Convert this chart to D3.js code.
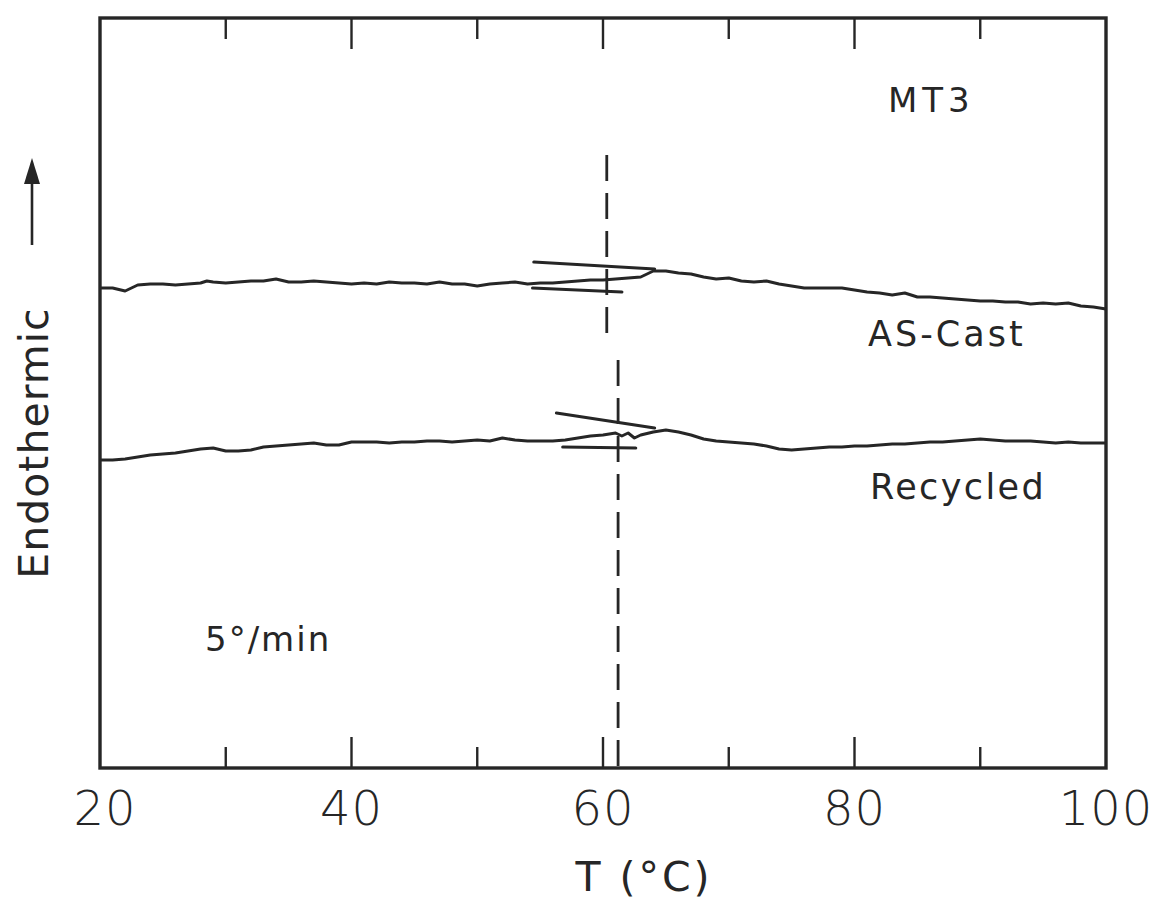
<!DOCTYPE html>
<html>
<head>
<meta charset="utf-8">
<script src="https://cdn.jsdelivr.net/npm/d3@7"></script>
<style>
  html, body { margin: 0; padding: 0; background: #fff; }
  svg text { font-family: "DejaVu Sans", "Liberation Sans", sans-serif; fill: #262626; }
</style>
</head>
<body>
<svg id="chart" width="1161" height="902"></svg>
<script>
// DSC heating scans of MT3 at 5°/min (heat flow in arbitrary units, endothermic up)
const temperature = [20,21,22,23,24,25,26,27,28,28.5,29,30,31,32,33,34,35,36,37,38,39,40,41,42,43,44,45,46,47,48,49,50,51,52,53,54,55,56,57,58,59,60,61,61.5,62,62.5,63,64,65,66,67,68,69,70,71,72,73,74,75,76,77,78,79,80,81,82,83,84,85,86,87,88,89,90,91,92,93,94,95,96,97,98,99,100];

const asCast = [9.60,9.60,9.54,9.66,9.68,9.68,9.66,9.68,9.70,9.74,9.72,9.70,9.72,9.74,9.74,9.78,9.72,9.72,9.74,9.72,9.70,9.68,9.70,9.68,9.72,9.70,9.70,9.68,9.72,9.68,9.68,9.64,9.68,9.70,9.72,9.68,9.70,9.70,9.72,9.74,9.76,9.76,9.78,9.79,9.80,9.81,9.82,9.94,9.94,9.90,9.88,9.82,9.78,9.80,9.74,9.72,9.74,9.68,9.64,9.60,9.60,9.60,9.60,9.56,9.52,9.50,9.46,9.50,9.42,9.42,9.40,9.38,9.36,9.34,9.34,9.32,9.32,9.28,9.30,9.28,9.30,9.24,9.22,9.18];

const recycled = [6.16,6.16,6.18,6.22,6.26,6.28,6.30,6.34,6.38,6.39,6.40,6.34,6.34,6.36,6.42,6.44,6.46,6.48,6.50,6.46,6.46,6.52,6.52,6.52,6.50,6.52,6.52,6.54,6.54,6.52,6.54,6.56,6.54,6.60,6.56,6.54,6.54,6.54,6.56,6.60,6.64,6.66,6.70,6.64,6.70,6.60,6.66,6.72,6.76,6.72,6.66,6.58,6.54,6.52,6.50,6.48,6.44,6.38,6.36,6.38,6.40,6.42,6.42,6.44,6.44,6.46,6.48,6.48,6.50,6.52,6.52,6.54,6.56,6.58,6.56,6.54,6.54,6.54,6.52,6.50,6.52,6.50,6.50,6.50];

// Baseline / step tangents used to locate Tg on each scan
const asCastTangents = [
  [[54.5, 10.12], [64.1, 9.98]],
  [[54.4, 9.60], [61.5, 9.52]]
];
const recycledTangents = [
  [[56.3, 7.10], [64.1, 6.80]],
  [[56.8, 6.42], [62.6, 6.40]]
];

// Glass transition markers: [Tg, top, bottom]
const tgMarkers = [
  [60.3, 12.26, 8.66],
  [61.2, 8.16, 0]
];

const majorTicks = [20, 40, 60, 80, 100];
const minorTicks = [30, 50, 70, 90];

const ink = "#262626";
const svg = d3.select("#chart");
const m = { left: 100, right: 1106, top: 18, bottom: 768 };

const x = d3.scaleLinear().domain([20, 100]).range([m.left, m.right]);
const y = d3.scaleLinear().domain([0, 15]).range([m.bottom, m.top]);

// ticks on bottom and top edges
const tickGroup = svg.append("g").attr("stroke", ink).attr("stroke-width", 2.4);
function drawTicks(values, len) {
  values.forEach(t => {
    tickGroup.append("line").attr("x1", x(t)).attr("x2", x(t))
      .attr("y1", m.bottom).attr("y2", m.bottom - len);
    tickGroup.append("line").attr("x1", x(t)).attr("x2", x(t))
      .attr("y1", m.top).attr("y2", m.top + len);
  });
}
drawTicks(majorTicks.filter(t => t > 20 && t < 100), 31);
drawTicks(minorTicks, 21);

// frame
svg.append("rect")
  .attr("x", m.left).attr("y", m.top)
  .attr("width", m.right - m.left).attr("height", m.bottom - m.top)
  .attr("fill", "none").attr("stroke", ink).attr("stroke-width", 3.4);

// tick labels
svg.append("g").selectAll("text").data(majorTicks).join("text")
  .attr("x", d => x(d) + (d === 20 ? 5 : 0))
  .attr("y", 825)
  .attr("text-anchor", "middle")
  .attr("font-size", 48)
  .attr("font-weight", 300)
  .attr("letter-spacing", 1)
  .text(d => d);

// axis titles
svg.append("text")
  .attr("x", 644).attr("y", 891)
  .attr("text-anchor", "middle")
  .attr("font-size", 41)
  .attr("letter-spacing", 3)
  .text("T (°C)");

svg.append("text")
  .attr("transform", "translate(48,443) rotate(-90)")
  .attr("text-anchor", "middle")
  .attr("font-size", 41)
  .attr("letter-spacing", 1)
  .text("Endothermic");

// endothermic direction arrow
svg.append("line")
  .attr("x1", 32).attr("x2", 32).attr("y1", 245).attr("y2", 178)
  .attr("stroke", ink).attr("stroke-width", 2.6);
svg.append("path")
  .attr("d", "M32,158 L24,184 L40,184 Z")
  .attr("fill", ink);

// scan curves
const line = d3.line().x(d => x(d[0])).y(d => y(d[1])).curve(d3.curveLinear);
[asCast, recycled].forEach(series => {
  svg.append("path")
    .datum(temperature.map((t, i) => [t, series[i]]))
    .attr("d", line)
    .attr("fill", "none")
    .attr("stroke", ink)
    .attr("stroke-width", 3)
    .attr("stroke-linejoin", "round");
});

// tangent construction lines
[...asCastTangents, ...recycledTangents].forEach(seg => {
  svg.append("path")
    .datum(seg)
    .attr("d", line)
    .attr("fill", "none")
    .attr("stroke", ink)
    .attr("stroke-width", 3.2)
    .attr("stroke-linecap", "round");
});

// Tg dashed markers
tgMarkers.forEach(([tg, top, bottom]) => {
  svg.append("line")
    .attr("x1", x(tg)).attr("x2", x(tg))
    .attr("y1", y(top)).attr("y2", y(bottom))
    .attr("stroke", ink).attr("stroke-width", 2.8)
    .attr("stroke-dasharray", "26,12");
});

// annotations
const notes = [
  { text: "MT3", x: 888, y: 112, size: 34, ls: 5 },
  { text: "AS-Cast", x: 868, y: 346, size: 35, ls: 3 },
  { text: "Recycled", x: 870, y: 499, size: 35, ls: 2.4 },
  { text: "5°/min", x: 205, y: 651, size: 34, ls: 2 }
];
svg.append("g").selectAll("text").data(notes).join("text")
  .attr("x", d => d.x).attr("y", d => d.y)
  .attr("font-size", d => d.size)
  .attr("letter-spacing", d => d.ls)
  .text(d => d.text);
</script>
</body>
</html>
